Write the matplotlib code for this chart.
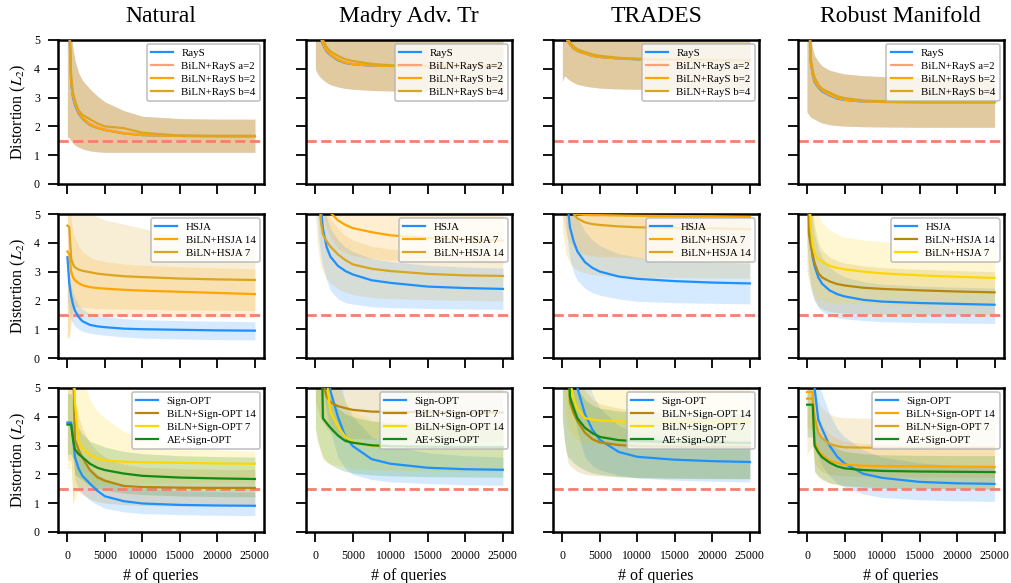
import matplotlib
matplotlib.use("Agg")
import matplotlib.pyplot as plt

plt.rcParams.update({
    "font.family": "serif",
    "font.serif": ["Liberation Serif", "DejaVu Serif"],
    "mathtext.fontset": "stix",
})

# ── data: # of queries grid ──────────────────────────────────────────
Q = [0, 250, 500, 750, 1000, 1500, 2000, 3000, 4000, 5000, 7500, 10000, 15000, 20000, 25000]
THRESH = 1.5

COLS = ["Natural", "Madry Adv. Tr", "TRADES", "Robust Manifold"]
XTICKS = [0, 5000, 10000, 15000, 20000, 25000]
YTICKS = [0, 1, 2, 3, 4, 5]

# ── row 1: RayS ──────────────────────────────────────────────────────
nat_rays    = [8, 5.5, 3.5, 3.0, 2.75, 2.45, 2.28, 2.05, 1.95, 1.88, 1.76, 1.70, 1.67, 1.66, 1.66]
nat_rays_a2 = [8, 5.6, 3.55, 3.05, 2.8, 2.5, 2.3, 2.1, 1.98, 1.9, 1.78, 1.71, 1.67, 1.66, 1.66]
nat_rays_b2 = [8, 5.7, 3.6, 3.1, 2.85, 2.5, 2.3, 2.06, 1.95, 1.88, 1.75, 1.70, 1.67, 1.67, 1.67]
nat_rays_b4 = [8, 5.8, 3.7, 3.15, 2.9, 2.55, 2.4, 2.25, 2.1, 2.0, 1.94, 1.78, 1.68, 1.67, 1.67]
nat_rays_hi = [8, 6, 5.2, 4.7, 4.3, 3.85, 3.6, 3.3, 3.05, 2.85, 2.55, 2.35, 2.27, 2.25, 2.25]
nat_rays_lo = [1.65, 1.6, 1.5, 1.42, 1.35, 1.28, 1.22, 1.15, 1.12, 1.1, 1.1, 1.1, 1.1, 1.1, 1.1]

mad_rays    = [8, 7, 5.3, 5.05, 4.85, 4.6, 4.48, 4.3, 4.2, 4.16, 4.11, 4.1, 4.09, 4.08, 4.08]
mad_rays_a2 = [8, 7, 5.35, 5.1, 4.9, 4.65, 4.5, 4.33, 4.22, 4.17, 4.12, 4.1, 4.09, 4.09, 4.09]
mad_rays_b2 = [8, 7, 5.3, 5.08, 4.88, 4.62, 4.5, 4.32, 4.22, 4.16, 4.12, 4.1, 4.1, 4.1, 4.1]
mad_rays_b4 = [8, 7, 5.4, 5.2, 5.0, 4.75, 4.6, 4.45, 4.33, 4.27, 4.17, 4.12, 4.1, 4.1, 4.1]
mad_rays_hi = [8, 8, 8, 8, 8, 8, 8, 8, 8, 8, 8, 8, 8, 8, 8]
mad_rays_lo = [4.0, 3.85, 3.75, 3.68, 3.62, 3.52, 3.45, 3.37, 3.32, 3.29, 3.25, 3.23, 3.22, 3.22, 3.22]

trd_rays    = [8, 6, 5.05, 4.95, 4.85, 4.7, 4.62, 4.53, 4.45, 4.41, 4.36, 4.33, 4.31, 4.3, 4.3]
trd_rays_a2 = [8, 6, 5.08, 4.97, 4.87, 4.72, 4.63, 4.54, 4.46, 4.42, 4.37, 4.34, 4.31, 4.3, 4.3]
trd_rays_b2 = [8, 6, 5.07, 4.96, 4.86, 4.71, 4.63, 4.53, 4.46, 4.41, 4.36, 4.33, 4.31, 4.3, 4.3]
trd_rays_b4 = [8, 6.2, 5.15, 5.02, 4.92, 4.78, 4.68, 4.58, 4.5, 4.45, 4.38, 4.35, 4.32, 4.31, 4.31]
trd_rays_hi = [8, 8, 8, 8, 8, 8, 8, 8, 8, 8, 8, 8, 8, 8, 8]
trd_rays_lo = [3.56, 3.75, 3.72, 3.65, 3.6, 3.52, 3.46, 3.4, 3.36, 3.33, 3.3, 3.29, 3.28, 3.28, 3.28]

rob_rays    = [8, 6, 4.2, 3.8, 3.55, 3.35, 3.22, 3.08, 2.97, 2.92, 2.86, 2.85, 2.84, 2.84, 2.84]
rob_rays_a2 = [8, 6, 4.25, 3.85, 3.6, 3.38, 3.25, 3.1, 2.99, 2.93, 2.87, 2.85, 2.85, 2.85, 2.85]
rob_rays_b2 = [8, 6, 4.25, 3.85, 3.6, 3.38, 3.26, 3.12, 3.0, 2.94, 2.87, 2.85, 2.85, 2.85, 2.85]
rob_rays_b4 = [8, 6.2, 4.35, 3.95, 3.7, 3.45, 3.3, 3.18, 3.05, 2.98, 2.9, 2.87, 2.86, 2.86, 2.86]
rob_rays_hi = [8, 6, 5.0, 4.7, 4.45, 4.25, 4.1, 3.95, 3.88, 3.82, 3.76, 3.73, 3.7, 3.68, 3.67]
rob_rays_lo = [2.5, 2.4, 2.32, 2.28, 2.25, 2.18, 2.12, 2.06, 2.03, 2.01, 1.99, 1.98, 1.97, 1.97, 1.97]

# ── row 2: HSJA ──────────────────────────────────────────────────────
nat_hsja    = [3.5, 2.6, 2.15, 1.85, 1.65, 1.42, 1.28, 1.15, 1.1, 1.07, 1.02, 1.0, 0.98, 0.96, 0.95]
nat_hsja_hi = [3.5, 2.85, 2.5, 2.25, 2.1, 1.85, 1.7, 1.55, 1.48, 1.44, 1.37, 1.33, 1.3, 1.28, 1.26]
nat_hsja_lo = [2.0, 1.6, 1.35, 1.2, 1.1, 1.0, 0.93, 0.86, 0.82, 0.79, 0.73, 0.69, 0.66, 0.64, 0.63]
nat_h14     = [3.7, 3.6, 3.0, 2.8, 2.7, 2.6, 2.53, 2.46, 2.43, 2.41, 2.37, 2.34, 2.3, 2.26, 2.22]
nat_h14_hi  = [6, 6, 4.8, 4.4, 4.2, 3.9, 3.7, 3.5, 3.4, 3.35, 3.27, 3.22, 3.17, 3.13, 3.1]
nat_h14_lo  = [0.7, 0.7, 1.2, 1.4, 1.5, 1.55, 1.53, 1.5, 1.48, 1.47, 1.45, 1.44, 1.43, 1.42, 1.41]
nat_h7      = [4.6, 4.55, 3.45, 3.25, 3.15, 3.07, 3.03, 2.98, 2.93, 2.9, 2.84, 2.81, 2.76, 2.73, 2.71]
nat_h7_hi   = [6, 6, 6, 5.8, 5.6, 5.4, 5.2, 5.0, 4.9, 4.8, 4.65, 4.5, 4.2, 3.95, 3.75]
nat_h7_lo   = [0.7, 0.8, 1.5, 1.7, 1.8, 1.78, 1.76, 1.74, 1.72, 1.71, 1.7, 1.69, 1.67, 1.66, 1.65]

mad_hsja    = [8, 7, 6, 5.2, 4.5, 3.85, 3.52, 3.2, 3.02, 2.9, 2.7, 2.61, 2.48, 2.43, 2.4]
mad_hsja_hi = [8, 8, 7, 6.3, 5.8, 4.9, 4.5, 4.1, 3.85, 3.7, 3.45, 3.35, 3.22, 3.16, 3.12]
mad_hsja_lo = [6, 5, 4, 3.5, 3.2, 2.7, 2.35, 2.05, 1.92, 1.87, 1.78, 1.75, 1.72, 1.7, 1.69]
mad_h7      = [8, 8, 7, 6.5, 6, 5.4, 5.05, 4.78, 4.62, 4.51, 4.37, 4.26, 4.17, 4.12, 4.08]
mad_h7_hi   = [8, 8, 8, 8, 8, 8, 8, 8, 8, 8, 8, 8, 8, 8, 8]
mad_h7_lo   = [6, 6, 5.5, 5.2, 5.0, 4.5, 4.2, 3.8, 3.65, 3.55, 3.45, 3.4, 3.35, 3.32, 3.3]
mad_h14     = [8, 7, 5.5, 4.7, 4.3, 4.05, 3.87, 3.6, 3.4, 3.25, 3.1, 3.02, 2.92, 2.87, 2.85]
mad_h14_hi  = [8, 8, 7, 6, 5.5, 5.1, 4.85, 4.5, 4.25, 4.1, 3.88, 3.78, 3.68, 3.63, 3.6]
mad_h14_lo  = [5, 4, 3.5, 3.2, 3.0, 2.75, 2.6, 2.4, 2.28, 2.2, 2.1, 2.06, 2.02, 2.0, 1.98]

trd_hsja    = [8, 7, 6, 5.2, 4.55, 4.05, 3.7, 3.33, 3.13, 3.0, 2.83, 2.75, 2.67, 2.62, 2.59]
trd_hsja_hi = [8, 8, 8, 7, 6, 5.3, 4.9, 4.4, 4.1, 3.9, 3.62, 3.5, 3.4, 3.33, 3.3]
trd_hsja_lo = [6, 5.5, 4.5, 3.9, 3.45, 2.95, 2.7, 2.42, 2.27, 2.18, 2.05, 1.97, 1.92, 1.9, 1.88]
trd_h7      = [8, 7, 6, 5.5, 5.2, 5.02, 4.99, 4.97, 4.96, 4.96, 4.95, 4.94, 4.93, 4.92, 4.9]
trd_h7_hi   = [8, 8, 8, 8, 8, 8, 8, 8, 8, 8, 8, 8, 8, 8, 8]
trd_h7_lo   = [5, 4.6, 4.3, 4.1, 4.0, 3.85, 3.7, 3.6, 3.55, 3.52, 3.5, 3.48, 3.47, 3.46, 3.45]
trd_h14     = [8, 7, 6, 5.6, 5.3, 5.0, 4.85, 4.71, 4.65, 4.62, 4.57, 4.54, 4.52, 4.5, 4.47]
trd_h14_hi  = [8, 8, 8, 8, 8, 8, 8, 8, 8, 8, 8, 8, 8, 8, 8]
trd_h14_lo  = [4.5, 4.0, 3.6, 3.45, 3.3, 3.15, 3.05, 2.95, 2.9, 2.87, 2.83, 2.8, 2.79, 2.78, 2.77]

rob_hsja    = [8, 5.5, 4.0, 3.5, 3.2, 2.8, 2.58, 2.35, 2.22, 2.14, 2.02, 1.96, 1.91, 1.88, 1.85]
rob_hsja_hi = [8, 7, 5.5, 4.8, 4.3, 3.8, 3.5, 3.15, 2.95, 2.82, 2.65, 2.57, 2.5, 2.46, 2.43]
rob_hsja_lo = [4, 3, 2.5, 2.2, 2.0, 1.75, 1.62, 1.48, 1.4, 1.36, 1.3, 1.26, 1.23, 1.21, 1.2]
rob_h14     = [8, 4.3, 3.9, 3.6, 3.3, 2.95, 2.8, 2.66, 2.57, 2.52, 2.44, 2.4, 2.35, 2.31, 2.28]
rob_h14_hi  = [8, 7, 6, 5.2, 4.6, 4.0, 3.75, 3.5, 3.38, 3.3, 3.2, 3.14, 3.08, 3.04, 3.0]
rob_h14_lo  = [3, 2.7, 2.4, 2.2, 2.0, 1.8, 1.7, 1.62, 1.58, 1.56, 1.53, 1.52, 1.5, 1.5, 1.5]
rob_h7      = [8, 6, 4.5, 3.9, 3.65, 3.43, 3.35, 3.2, 3.13, 3.08, 3.0, 2.94, 2.87, 2.82, 2.78]
rob_h7_hi   = [8, 8, 8, 7, 6, 5.0, 4.7, 4.45, 4.3, 4.2, 4.1, 4.04, 3.98, 3.95, 3.92]
rob_h7_lo   = [3.5, 3.0, 2.6, 2.35, 2.2, 2.05, 2.0, 1.95, 1.92, 1.9, 1.88, 1.85, 1.83, 1.81, 1.8]

# ── row 3: Sign-OPT ──────────────────────────────────────────────────
nat_sopt    = [3.8, 3.8, 3.8, 3.3, 2.6, 2.2, 1.95, 1.68, 1.43, 1.24, 1.07, 0.99, 0.94, 0.92, 0.91]
nat_sopt_hi = [3.85, 3.85, 3.85, 3.6, 3.0, 2.7, 2.5, 2.25, 2.0, 1.85, 1.6, 1.5, 1.43, 1.4, 1.38]
nat_sopt_lo = [3.7, 3.7, 3.7, 3.0, 1.8, 1.5, 1.35, 1.1, 0.95, 0.82, 0.7, 0.64, 0.6, 0.58, 0.57]
nat_s14     = [8, 8, 8, 6, 3.2, 2.85, 2.58, 2.15, 1.9, 1.78, 1.6, 1.56, 1.54, 1.53, 1.53]
nat_s14_hi  = [8, 8, 8, 7, 4.6, 4.0, 3.6, 3.1, 2.8, 2.6, 2.35, 2.25, 2.2, 2.18, 2.17]
nat_s14_lo  = [2.5, 2.5, 2.5, 1.0, 1.5, 1.4, 1.3, 1.15, 1.05, 1.0, 0.95, 0.92, 0.9, 0.9, 0.9]
nat_s7      = [8, 8, 8, 8, 4.5, 3.15, 2.92, 2.67, 2.55, 2.49, 2.44, 2.42, 2.4, 2.38, 2.37]
nat_s7_hi   = [8, 8, 8, 8, 8, 6, 5.3, 4.6, 4.2, 3.95, 3.5, 3.2, 2.95, 2.85, 2.8]
nat_s7_lo   = [2.2, 2.2, 2.2, 1.0, 1.1, 1.5, 1.55, 1.6, 1.62, 1.65, 1.68, 1.7, 1.71, 1.72, 1.72]
nat_ae      = [3.73, 3.73, 3.73, 3.2, 2.87, 2.7, 2.6, 2.37, 2.23, 2.15, 2.03, 1.95, 1.89, 1.86, 1.84]
nat_ae_hi   = [4.8, 4.8, 4.8, 4.5, 3.8, 3.6, 3.4, 3.15, 3.05, 2.95, 2.8, 2.72, 2.65, 2.62, 2.6]
nat_ae_lo   = [2.7, 2.7, 2.7, 2.5, 2.0, 1.9, 1.8, 1.6, 1.52, 1.45, 1.35, 1.3, 1.25, 1.23, 1.22]

mad_sopt    = [8, 8, 8, 8, 7, 6, 4.9, 4.0, 3.3, 2.98, 2.53, 2.37, 2.23, 2.18, 2.16]
mad_sopt_hi = [8, 8, 8, 8, 8, 8, 8, 5.5, 4.5, 4.0, 3.3, 3.0, 2.75, 2.65, 2.6]
mad_sopt_lo = [6, 6, 6, 5.5, 5, 4.2, 3.5, 2.6, 2.2, 2.0, 1.82, 1.74, 1.68, 1.64, 1.62]
mad_s7      = [8, 8, 8, 7, 5.2, 4.7, 4.51, 4.37, 4.3, 4.24, 4.18, 4.17, 4.16, 4.15, 4.15]
mad_s7_hi   = [8, 8, 8, 8, 8, 8, 8, 8, 8, 8, 8, 8, 8, 8, 8]
mad_s7_lo   = [4.5, 4.3, 4.1, 3.9, 3.8, 3.6, 3.5, 3.35, 3.3, 3.25, 3.22, 3.2, 3.18, 3.16, 3.15]
mad_s14     = [8, 8, 8, 8, 8, 5.3, 4.17, 3.67, 3.3, 3.13, 3.0, 2.97, 2.96, 2.95, 2.95]
mad_s14_hi  = [8, 8, 8, 8, 8, 8, 6, 5, 4.5, 4.2, 3.9, 3.8, 3.75, 3.72, 3.7]
mad_s14_lo  = [3.6, 3.2, 2.9, 2.7, 2.5, 2.4, 2.35, 2.3, 2.25, 2.2, 2.17, 2.15, 2.12, 2.11, 2.1]
mad_ae      = [8, 8, 8, 8, 3.95, 3.78, 3.62, 3.35, 3.16, 3.1, 3.01, 2.98, 2.96, 2.95, 2.95]
mad_ae_hi   = [8, 8, 8, 8, 5.5, 5.0, 4.7, 4.3, 4.1, 4.0, 3.85, 3.8, 3.75, 3.72, 3.7]
mad_ae_lo   = [3.6, 3.2, 3.0, 2.8, 2.6, 2.45, 2.35, 2.2, 2.1, 2.05, 1.98, 1.95, 1.92, 1.91, 1.9]

trd_sopt    = [8, 8, 8, 8, 7, 6, 5.0, 4.1, 3.55, 3.2, 2.78, 2.61, 2.51, 2.46, 2.43]
trd_sopt_hi = [8, 8, 8, 8, 8, 8, 8, 5.5, 4.8, 4.3, 3.7, 3.45, 3.3, 3.22, 3.18]
trd_sopt_lo = [6, 6, 6, 5.5, 5, 4.2, 3.5, 2.6, 2.3, 2.15, 1.98, 1.88, 1.8, 1.76, 1.74]
trd_s14     = [8, 8, 8, 7, 4.5, 4.12, 3.85, 3.45, 3.22, 3.11, 3.02, 2.98, 2.96, 2.95, 2.95]
trd_s14_hi  = [8, 8, 8, 8, 8, 6, 5.5, 4.9, 4.6, 4.45, 4.3, 4.2, 4.15, 4.12, 4.1]
trd_s14_lo  = [4, 3.2, 2.8, 2.4, 2.3, 2.2, 2.1, 2.0, 1.97, 1.95, 1.92, 1.9, 1.88, 1.86, 1.85]
trd_s7      = [8, 8, 8, 7, 5.3, 4.6, 4.28, 3.96, 3.9, 3.87, 3.84, 3.83, 3.83, 3.82, 3.82]
trd_s7_hi   = [8, 8, 8, 8, 8, 8, 8, 8, 8, 8, 8, 8, 8, 8, 8]
trd_s7_lo   = [5, 4.5, 4.0, 3.7, 3.5, 3.3, 3.2, 3.1, 3.07, 3.05, 3.02, 3.0, 2.98, 2.96, 2.95]
trd_ae      = [8, 8, 8, 7, 4.7, 4.3, 3.95, 3.62, 3.43, 3.3, 3.19, 3.15, 3.13, 3.11, 3.09]
trd_ae_hi   = [8, 8, 8, 8, 6, 5.3, 5.0, 4.6, 4.4, 4.3, 4.2, 4.15, 4.12, 4.11, 4.1]
trd_ae_lo   = [3.9, 3.2, 2.8, 2.6, 2.55, 2.4, 2.3, 2.15, 2.05, 2.0, 1.92, 1.88, 1.86, 1.85, 1.85]

rob_sopt    = [8, 8, 8, 8, 5.0, 3.9, 3.58, 3.0, 2.62, 2.38, 2.02, 1.88, 1.74, 1.69, 1.67]
rob_sopt_hi = [8, 8, 8, 8, 8, 5.2, 4.8, 4.1, 3.6, 3.3, 2.85, 2.6, 2.4, 2.3, 2.25]
rob_sopt_lo = [6, 6, 6, 5, 3.2, 2.6, 2.3, 1.95, 1.7, 1.55, 1.32, 1.2, 1.12, 1.08, 1.06]
rob_s14     = [4.86, 4.86, 4.86, 4.86, 3.1, 2.82, 2.68, 2.48, 2.4, 2.34, 2.3, 2.29, 2.28, 2.27, 2.26]
rob_s14_hi  = [5.5, 5.5, 5.5, 5.5, 4.5, 4.0, 3.7, 3.4, 3.25, 3.15, 3.08, 3.05, 3.02, 3.01, 3.0]
rob_s14_lo  = [3.6, 3.6, 3.55, 3.5, 2.1, 1.9, 1.8, 1.7, 1.65, 1.62, 1.58, 1.55, 1.52, 1.51, 1.5]
rob_s7      = [4.63, 4.63, 4.63, 4.63, 4.0, 3.45, 3.26, 3.06, 2.98, 2.94, 2.93, 2.92, 2.92, 2.92, 2.92]
rob_s7_hi   = [5.5, 5.5, 5.5, 5.5, 5.0, 4.5, 4.3, 4.1, 4.0, 3.97, 3.95, 3.94, 3.93, 3.93, 3.93]
rob_s7_lo   = [2.7, 2.8, 2.9, 2.9, 2.4, 2.2, 2.1, 2.0, 1.97, 1.95, 1.93, 1.92, 1.91, 1.9, 1.9]
rob_ae      = [4.42, 4.42, 4.42, 4.42, 3.0, 2.76, 2.6, 2.41, 2.28, 2.21, 2.15, 2.12, 2.1, 2.09, 2.08]
rob_ae_hi   = [5.2, 5.2, 5.2, 5.2, 3.9, 3.5, 3.3, 3.05, 2.9, 2.8, 2.72, 2.68, 2.66, 2.65, 2.65]
rob_ae_lo   = [3.3, 3.3, 3.3, 3.3, 2.1, 1.95, 1.85, 1.7, 1.65, 1.6, 1.55, 1.52, 1.5, 1.49, 1.48]

# ── colours ──────────────────────────────────────────────────────────
BLUE = "#1E90FF"; SALMON = "#FFA07A"; ORANGE = "#FFA500"
GOLDENROD = "#DAA520"; DKGOLD = "#B8860B"; GOLD = "#FFD700"; GREEN = "#138A13"
RED = "#F4806F"

# (label, colour, mean, lo, hi) for every panel
panels = [
    [  # RayS row
        [("RayS", BLUE, nat_rays, nat_rays_lo, nat_rays_hi),
         ("BiLN+RayS a=2", SALMON, nat_rays_a2, nat_rays_lo, nat_rays_hi),
         ("BiLN+RayS b=2", ORANGE, nat_rays_b2, nat_rays_lo, nat_rays_hi),
         ("BiLN+RayS b=4", GOLDENROD, nat_rays_b4, nat_rays_lo, nat_rays_hi)],
        [("RayS", BLUE, mad_rays, mad_rays_lo, mad_rays_hi),
         ("BiLN+RayS a=2", SALMON, mad_rays_a2, mad_rays_lo, mad_rays_hi),
         ("BiLN+RayS b=2", ORANGE, mad_rays_b2, mad_rays_lo, mad_rays_hi),
         ("BiLN+RayS b=4", GOLDENROD, mad_rays_b4, mad_rays_lo, mad_rays_hi)],
        [("RayS", BLUE, trd_rays, trd_rays_lo, trd_rays_hi),
         ("BiLN+RayS a=2", SALMON, trd_rays_a2, trd_rays_lo, trd_rays_hi),
         ("BiLN+RayS b=2", ORANGE, trd_rays_b2, trd_rays_lo, trd_rays_hi),
         ("BiLN+RayS b=4", GOLDENROD, trd_rays_b4, trd_rays_lo, trd_rays_hi)],
        [("RayS", BLUE, rob_rays, rob_rays_lo, rob_rays_hi),
         ("BiLN+RayS a=2", SALMON, rob_rays_a2, rob_rays_lo, rob_rays_hi),
         ("BiLN+RayS b=2", ORANGE, rob_rays_b2, rob_rays_lo, rob_rays_hi),
         ("BiLN+RayS b=4", GOLDENROD, rob_rays_b4, rob_rays_lo, rob_rays_hi)],
    ],
    [  # HSJA row
        [("HSJA", BLUE, nat_hsja, nat_hsja_lo, nat_hsja_hi),
         ("BiLN+HSJA 14", ORANGE, nat_h14, nat_h14_lo, nat_h14_hi),
         ("BiLN+HSJA 7", GOLDENROD, nat_h7, nat_h7_lo, nat_h7_hi)],
        [("HSJA", BLUE, mad_hsja, mad_hsja_lo, mad_hsja_hi),
         ("BiLN+HSJA 7", ORANGE, mad_h7, mad_h7_lo, mad_h7_hi),
         ("BiLN+HSJA 14", GOLDENROD, mad_h14, mad_h14_lo, mad_h14_hi)],
        [("HSJA", BLUE, trd_hsja, trd_hsja_lo, trd_hsja_hi),
         ("BiLN+HSJA 7", ORANGE, trd_h7, trd_h7_lo, trd_h7_hi),
         ("BiLN+HSJA 14", GOLDENROD, trd_h14, trd_h14_lo, trd_h14_hi)],
        [("HSJA", BLUE, rob_hsja, rob_hsja_lo, rob_hsja_hi),
         ("BiLN+HSJA 14", DKGOLD, rob_h14, rob_h14_lo, rob_h14_hi),
         ("BiLN+HSJA 7", GOLD, rob_h7, rob_h7_lo, rob_h7_hi)],
    ],
    [  # Sign-OPT row
        [("Sign-OPT", BLUE, nat_sopt, nat_sopt_lo, nat_sopt_hi),
         ("BiLN+Sign-OPT 14", DKGOLD, nat_s14, nat_s14_lo, nat_s14_hi),
         ("BiLN+Sign-OPT 7", GOLD, nat_s7, nat_s7_lo, nat_s7_hi),
         ("AE+Sign-OPT", GREEN, nat_ae, nat_ae_lo, nat_ae_hi)],
        [("Sign-OPT", BLUE, mad_sopt, mad_sopt_lo, mad_sopt_hi),
         ("BiLN+Sign-OPT 7", DKGOLD, mad_s7, mad_s7_lo, mad_s7_hi),
         ("BiLN+Sign-OPT 14", GOLD, mad_s14, mad_s14_lo, mad_s14_hi),
         ("AE+Sign-OPT", GREEN, mad_ae, mad_ae_lo, mad_ae_hi)],
        [("Sign-OPT", BLUE, trd_sopt, trd_sopt_lo, trd_sopt_hi),
         ("BiLN+Sign-OPT 14", DKGOLD, trd_s14, trd_s14_lo, trd_s14_hi),
         ("BiLN+Sign-OPT 7", GOLD, trd_s7, trd_s7_lo, trd_s7_hi),
         ("AE+Sign-OPT", GREEN, trd_ae, trd_ae_lo, trd_ae_hi)],
        [("Sign-OPT", BLUE, rob_sopt, rob_sopt_lo, rob_sopt_hi),
         ("BiLN+Sign-OPT 14", ORANGE, rob_s14, rob_s14_lo, rob_s14_hi),
         ("BiLN+Sign-OPT 7", GOLDENROD, rob_s7, rob_s7_lo, rob_s7_hi),
         ("AE+Sign-OPT", GREEN, rob_ae, rob_ae_lo, rob_ae_hi)],
    ],
]

# ── layout ───────────────────────────────────────────────────────────
fig = plt.figure(figsize=(10.11, 5.83), dpi=100)
lefts = [0.0574, 0.3027, 0.5470, 0.7890]
bottoms = [0.6844, 0.3859, 0.0875]
AW, AH = 0.2040, 0.2470

for r in range(3):
    for c in range(4):
        ax = fig.add_axes([lefts[c], bottoms[r], AW, AH])
        series = panels[r][c]
        for lab, col, m, lo, hi in series:
            ax.fill_between(Q, lo, hi, color=col, alpha=0.18, lw=0, zorder=1)
        for lab, col, m, lo, hi in series:
            ax.plot(Q, m, color=col, lw=1.6, label=lab, zorder=3)
        ax.axhline(THRESH, color=RED, ls="--", lw=2, zorder=2.5)

        ax.set_xlim(-1250, 26250)
        ax.set_ylim(0, 5)
        ax.set_xticks(XTICKS)
        ax.set_yticks(YTICKS)
        for s in ax.spines.values():
            s.set_linewidth(1.8)
        ax.tick_params(direction="out", length=7, width=1.3, pad=6, labelsize=8.5)
        if r < 2:
            ax.set_xticklabels([])
        else:
            ax.set_xlabel("# of queries", fontsize=11.5, labelpad=4)
        if c == 0:
            ax.set_ylabel("Distortion ($L_2$)", fontsize=11.5, labelpad=4)
        else:
            ax.set_yticklabels([])
        leg = ax.legend(loc="upper right", fontsize=7.8, labelspacing=0.3,
                        borderaxespad=0.4, framealpha=0.8)
        leg.get_frame().set_edgecolor("0.7")
        leg.get_frame().set_linewidth(1.2)

for c, name in enumerate(COLS):
    fig.text(lefts[c] + AW / 2, 0.972, name, ha="center", va="center", fontsize=17)

fig.savefig("out.png", dpi=100)
plt.close()
